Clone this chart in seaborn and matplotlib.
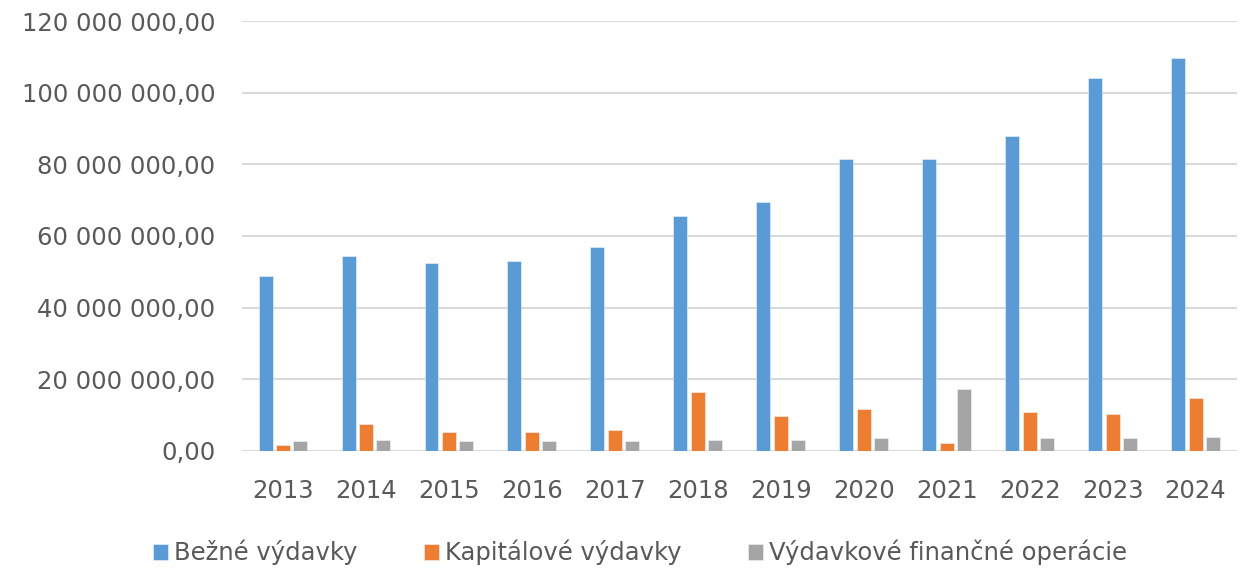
import pandas as pd
import seaborn as sns
import matplotlib.pyplot as plt
from matplotlib.ticker import FuncFormatter

years = ["2013", "2014", "2015", "2016", "2017", "2018",
         "2019", "2020", "2021", "2022", "2023", "2024"]
bezne = [48.9, 54.3, 52.6, 53.0, 57.0, 65.6, 69.6, 81.4, 81.4, 88.0, 104.2, 109.7]
kapitalove = [1.7, 7.5, 5.3, 5.3, 5.8, 16.5, 9.8, 11.6, 2.1, 10.8, 10.2, 14.7]
financne = [2.7, 3.1, 2.7, 2.7, 2.7, 3.1, 3.1, 3.5, 17.4, 3.5, 3.5, 3.9]
series_names = ["Bežné výdavky", "Kapitálové výdavky", "Výdavkové finančné operácie"]
colors = ["#5B9BD5", "#ED7D31", "#A5A5A5"]


def fmt_sk(v, pos):
    return f"{v:,.2f}".replace(",", " ").replace(".", ",")


def main():
    frames = []
    for name, vals in zip(series_names, [bezne, kapitalove, financne]):
        frames.append(pd.DataFrame({"rok": years, "seria": name,
                                    "hodnota": [v * 1e6 for v in vals]}))
    df = pd.concat(frames, ignore_index=True)

    sns.set_style("white")
    plt.rcParams["font.family"] = ["DejaVu Sans"]

    fig = plt.figure(figsize=(12.43, 5.71), dpi=100)
    ax = fig.add_axes([0.1943, 0.2102, 0.8009, 0.7530])

    sns.barplot(data=df, x="rok", y="hodnota", hue="seria",
                palette=colors, saturation=1, width=0.63, gap=0.2, ax=ax,
                edgecolor="#eef4fb", linewidth=0.4)

    ax.set_ylim(0, 120e6)
    ax.set_yticks([i * 20e6 for i in range(7)])
    ax.yaxis.set_major_formatter(FuncFormatter(fmt_sk))
    ax.set_xlim(-0.5, len(years) - 0.5)
    ax.grid(axis="y", color="#d9d9d9", linewidth=1.5)
    ax.set_axisbelow(True)
    for s in ax.spines.values():
        s.set_visible(False)
    ax.tick_params(axis="y", length=0, pad=19, labelsize=17.5, labelcolor="#595959")
    ax.tick_params(axis="x", length=0, pad=20, labelsize=17.5, labelcolor="#595959")
    ax.set_xlabel("")
    ax.set_ylabel("")

    ax.legend_.remove()
    handles, labels = ax.get_legend_handles_labels()
    fig.legend(handles, labels, loc="center", bbox_to_anchor=(0.515, 0.032),
               ncol=3, frameon=False, fontsize=17.5, labelcolor="#595959",
               handlelength=0.6, handleheight=0.6, handletextpad=0.25,
               columnspacing=2.75)

    fig.savefig("out.png", dpi=100)


if __name__ == "__main__":
    main()
